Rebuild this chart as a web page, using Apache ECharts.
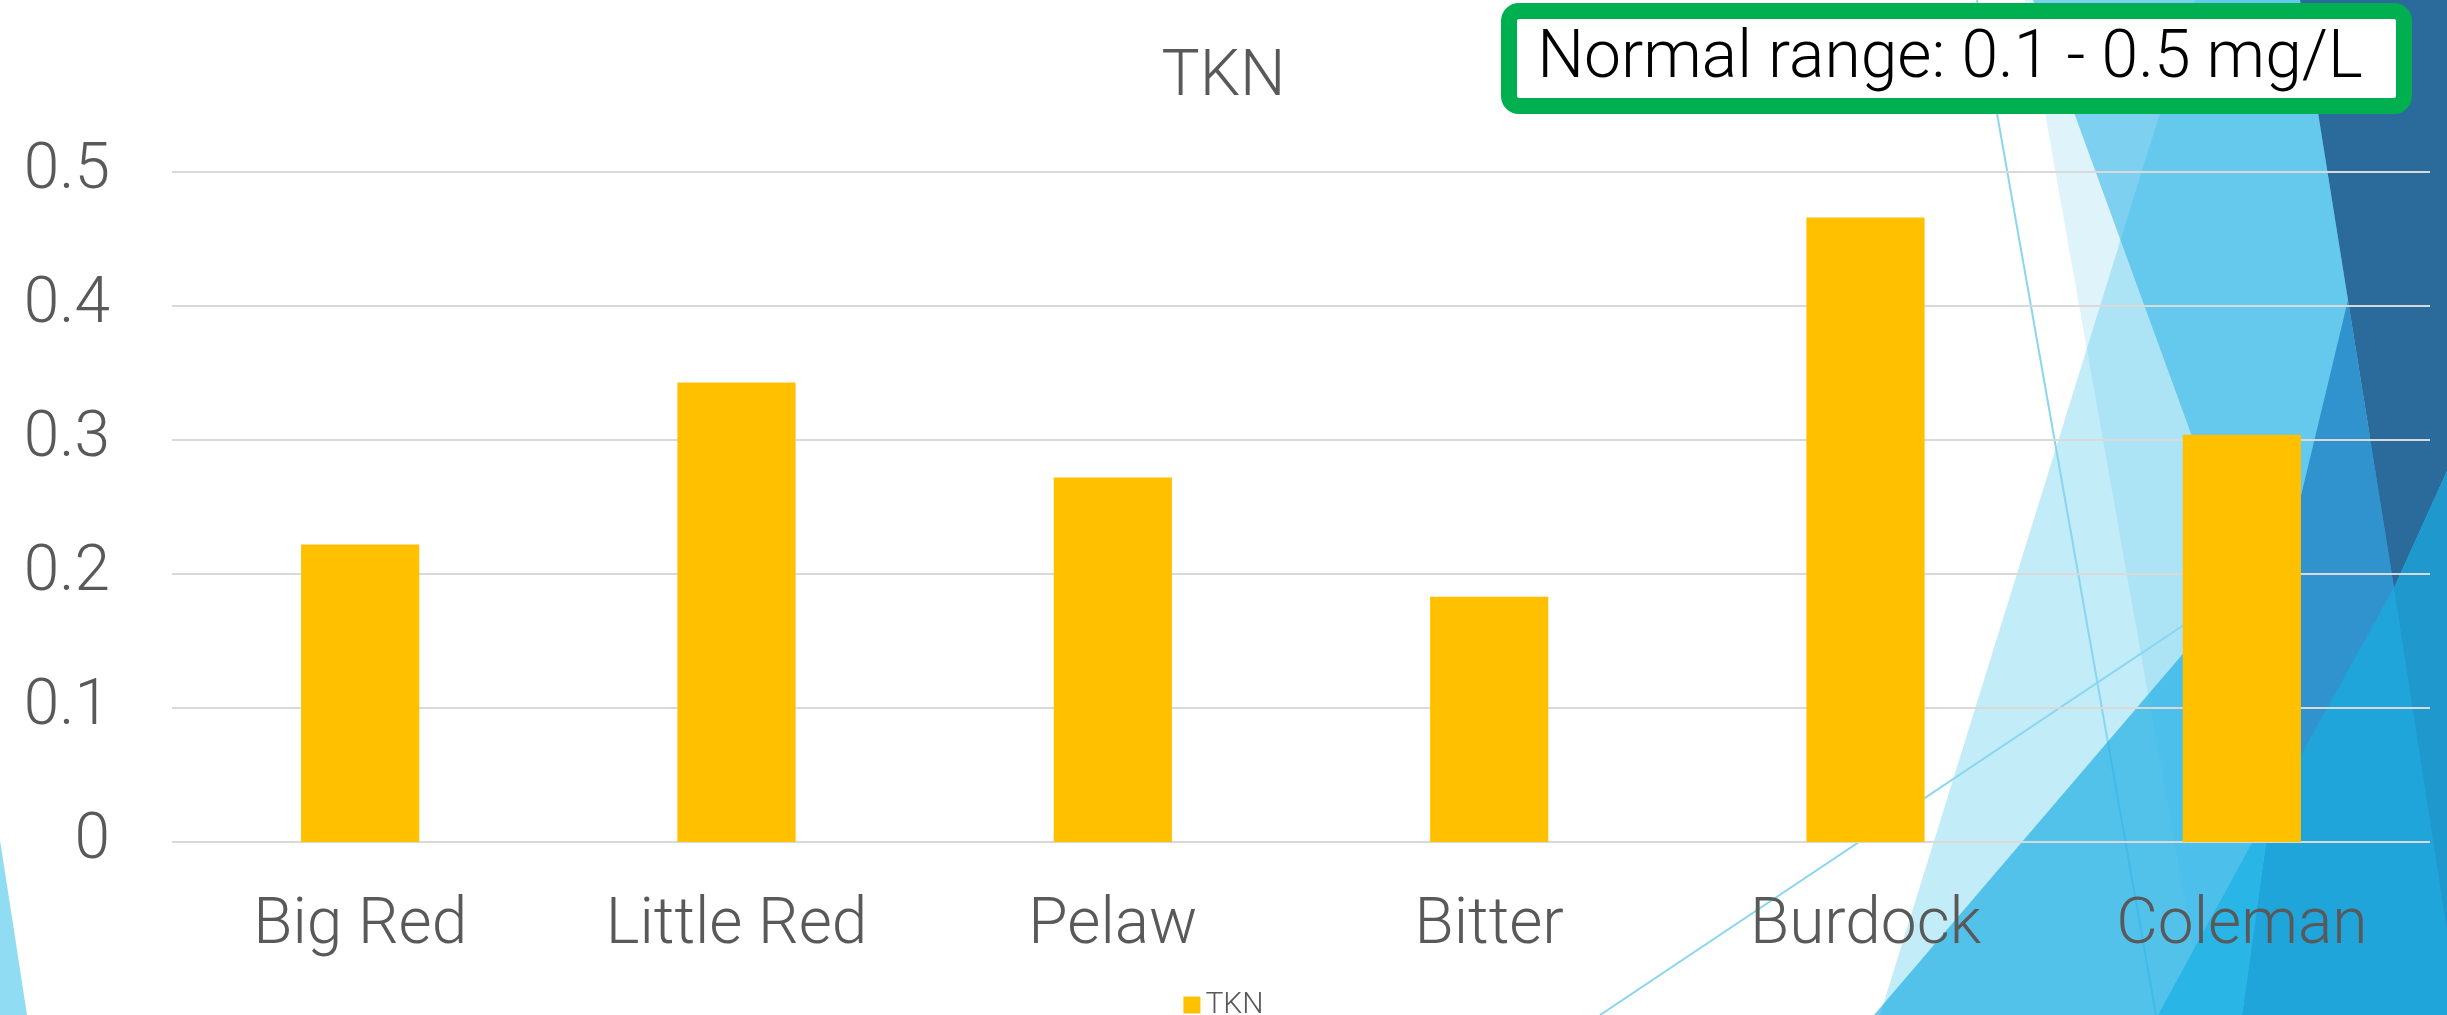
<!DOCTYPE html>
<html>
<head>
<meta charset="utf-8">
<script src="https://cdn.jsdelivr.net/npm/echarts@6/dist/echarts.min.js"></script>
<style>
  html, body { margin: 0; padding: 0; background: #ffffff; }
  #main { width: 2447px; height: 1015px; }
</style>
</head>
<body>
<div id="main"></div>
<script>
var categories = ['Big Red', 'Little Red', 'Pelaw', 'Bitter', 'Burdock', 'Coleman'];
var tknValues = [0.222, 0.343, 0.272, 0.183, 0.466, 0.304];
var yTicks = [0, 0.1, 0.2, 0.3, 0.4, 0.5];
var noteText = 'Normal range: 0.1 - 0.5 mg/L';

var FONT = 'Roboto';
var GREY = '#595959';

// slide background facets (theme decoration, behind the chart)
function poly(points, fill) {
  return { type: 'polygon', z: -10, silent: true, shape: { points: points }, style: { fill: fill } };
}
function thinLine(x1, y1, x2, y2) {
  return { type: 'line', z: -10, silent: true,
    shape: { x1: x1, y1: y1, x2: x2, y2: y2 },
    style: { stroke: '#8ad6f0', lineWidth: 2 } };
}

var facets = [
  poly([[2025, 0], [2447, 0], [2447, 1015], [2205, 1015]], '#dff3fa'),
  poly([[1880, 1015], [2195, 0], [2447, 0], [2447, 1015]], 'rgba(84,202,235,0.36)'),
  thinLine(1977, 0, 2156, 1015),
  thinLine(1600, 1015, 2447, 449),
  poly([[2033, 0], [2300, 0], [2348, 300], [2317, 520], [2310, 760]], 'rgba(28,173,228,0.5)'),
  poly([[1874, 1015], [2447, 345], [2447, 1015]], 'rgba(28,173,228,0.67)'),
  poly([[2348, 300], [2394, 588], [2300, 760], [2300, 500]], '#3093cd'),
  poly([[2300, 0], [2447, 0], [2447, 471], [2394, 588]], '#2b6b9c'),
  poly([[2447, 471], [2394, 588], [2302, 753], [2266, 843], [2242, 1015], [2447, 1015]], '#1fa5da'),
  poly([[2394, 588], [2447, 471], [2447, 930]], '#1e98cd'),
  poly([[2158, 1015], [2242, 1015], [2266, 843], [2252, 843]], '#29b5e5'),
  poly([[0, 840], [27, 1015], [0, 1015]], '#8fdcf3')
];

var noteBox = {
  type: 'group',
  z: 100,
  children: [{
    type: 'rect',
    z: 100,
    shape: { x: 1509, y: 11, width: 895, height: 95, r: 10 },
    style: { fill: '#ffffff', stroke: '#00b050', lineWidth: 16 }
  }, {
    type: 'text',
    z: 101,
    x: 1950,
    y: 60,
    style: {
      text: noteText,
      fill: '#000000',
      font: '300 66px ' + FONT,
      align: 'center',
      verticalAlign: 'middle'
    }
  }]
};

var chart = echarts.init(document.getElementById('main'), null, { renderer: 'canvas' });

var option = {
  backgroundColor: '#ffffff',
  animation: false,
  title: {
    text: 'TKN',
    left: 'center',
    top: 42,
    textStyle: { color: GREY, fontFamily: FONT, fontWeight: 300, fontSize: 64 }
  },
  legend: {
    data: ['TKN'],
    top: 985,
    left: 'center',
    icon: 'rect',
    itemWidth: 17,
    itemHeight: 17,
    itemGap: 8,
    textStyle: { color: GREY, fontFamily: FONT, fontWeight: 300, fontSize: 30 }
  },
  grid: {
    left: 172,
    right: 17,
    top: 172,
    bottom: 173,
    containLabel: false
  },
  xAxis: {
    type: 'category',
    data: categories,
    axisLine: { show: false },
    axisTick: { show: false },
    axisLabel: {
      color: GREY,
      fontFamily: FONT,
      fontWeight: 300,
      fontSize: 64,
      margin: 53
    }
  },
  yAxis: {
    type: 'value',
    min: yTicks[0],
    max: yTicks[yTicks.length - 1],
    interval: 0.1,
    axisLine: { show: false },
    axisTick: { show: false },
    splitLine: { lineStyle: { color: '#d9d9d9', width: 2 } },
    axisLabel: {
      color: GREY,
      fontFamily: FONT,
      fontWeight: 300,
      fontSize: 64,
      margin: 62,
      formatter: function (v) { return String(Math.round(v * 10) / 10); }
    }
  },
  series: [{
    name: 'TKN',
    type: 'bar',
    data: tknValues,
    barWidth: '31.4%',
    itemStyle: { color: '#ffc000' }
  }],
  graphic: { elements: facets.concat([noteBox]) }
};

chart.setOption(option);
</script>
</body>
</html>
